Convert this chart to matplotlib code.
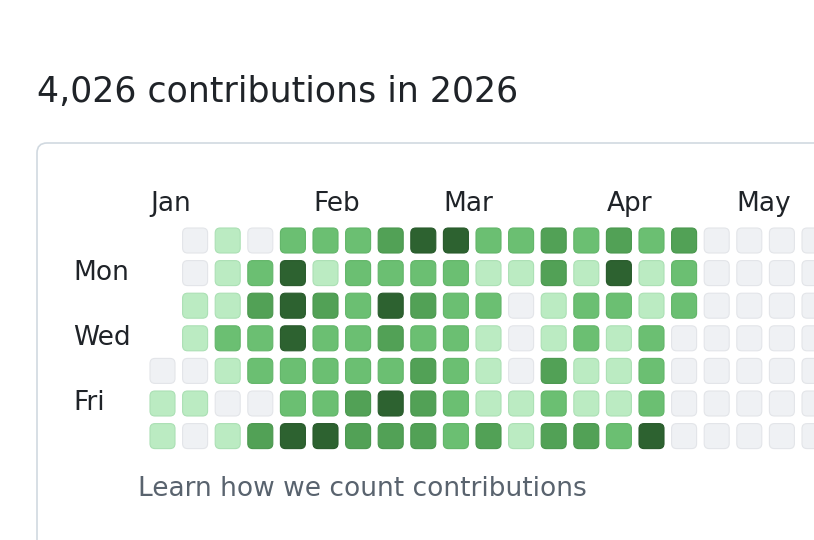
import matplotlib.pyplot as plt
from matplotlib.patches import FancyBboxPatch

# contribution levels per weekday row (Sun..Sat), per week column; -1 = no day
levels = [
    [-1, 0, 1, 0, 2, 2, 2, 3, 4, 4, 2, 2, 3, 2, 3, 2, 3, 0, 0, 0, 0],
    [-1, 0, 1, 2, 4, 1, 2, 2, 2, 2, 1, 1, 3, 1, 4, 1, 2, 0, 0, 0, 0],
    [-1, 1, 1, 3, 4, 3, 2, 4, 3, 2, 2, 0, 1, 2, 2, 1, 2, 0, 0, 0, 0],
    [-1, 1, 2, 2, 4, 2, 2, 3, 2, 2, 1, 0, 1, 2, 1, 2, 0, 0, 0, 0, 0],
    [0, 0, 1, 2, 2, 2, 2, 2, 3, 2, 1, 0, 3, 1, 1, 2, 0, 0, 0, 0, 0],
    [1, 1, 0, 0, 2, 2, 3, 4, 3, 2, 1, 1, 2, 1, 1, 2, 0, 0, 0, 0, 0],
    [1, 0, 1, 3, 4, 4, 3, 3, 3, 2, 3, 1, 3, 3, 2, 4, 0, 0, 0, 0, 0],
]
months = ["Jan", "Feb", "Mar", "Apr", "May"]
month_cols = [0, 5, 9, 14, 18]
day_labels = ["Mon", "Wed", "Fri"]
day_rows = [1, 3, 5]
title = "4,026 contributions in 2026"
footer = "Learn how we count contributions"

colors = ["#eff1f4", "#bbebc2", "#6bbf72", "#52a156", "#2d6230"]
edges = ["#e3e5e9", "#abe0b4", "#62b569", "#4a974e", "#285a2b"]

fig = plt.figure(figsize=(8.14, 5.40), dpi=100)
ax = fig.add_axes([0, 0, 1, 1])
ax.set_xlim(0, 814)
ax.set_ylim(540, 0)
ax.axis("off")

fnt = "DejaVu Sans"
ax.text(37, 92, title, fontsize=25, color="#1f2328", va="center", family=fnt)

box = FancyBboxPatch((37, 143), 820, 420, boxstyle="round,pad=0,rounding_size=10",
                     fc="white", ec="#d1d9e0", lw=1.2)
ax.add_patch(box)

x0, y0, step, size = 150, 228, 32.6, 25
for r, row in enumerate(levels):
    for c, lv in enumerate(row):
        if lv < 0:
            continue
        ax.add_patch(FancyBboxPatch((x0 + c * step, y0 + r * step), size, size,
                                    boxstyle="round,pad=0,rounding_size=5",
                                    fc=colors[lv], ec=edges[lv], lw=0.8))

for m, c in zip(months, month_cols):
    ax.text(x0 + c * step, 204, m, fontsize=19, color="#1f2328", va="center", family=fnt)
for d, r in zip(day_labels, day_rows):
    ax.text(73, y0 + r * step + size / 2, d, fontsize=19, color="#1f2328", va="center", family=fnt)

ax.text(138, 489, footer, fontsize=19, color="#59636e", va="center", family=fnt)

fig.savefig("out.png", dpi=100)
